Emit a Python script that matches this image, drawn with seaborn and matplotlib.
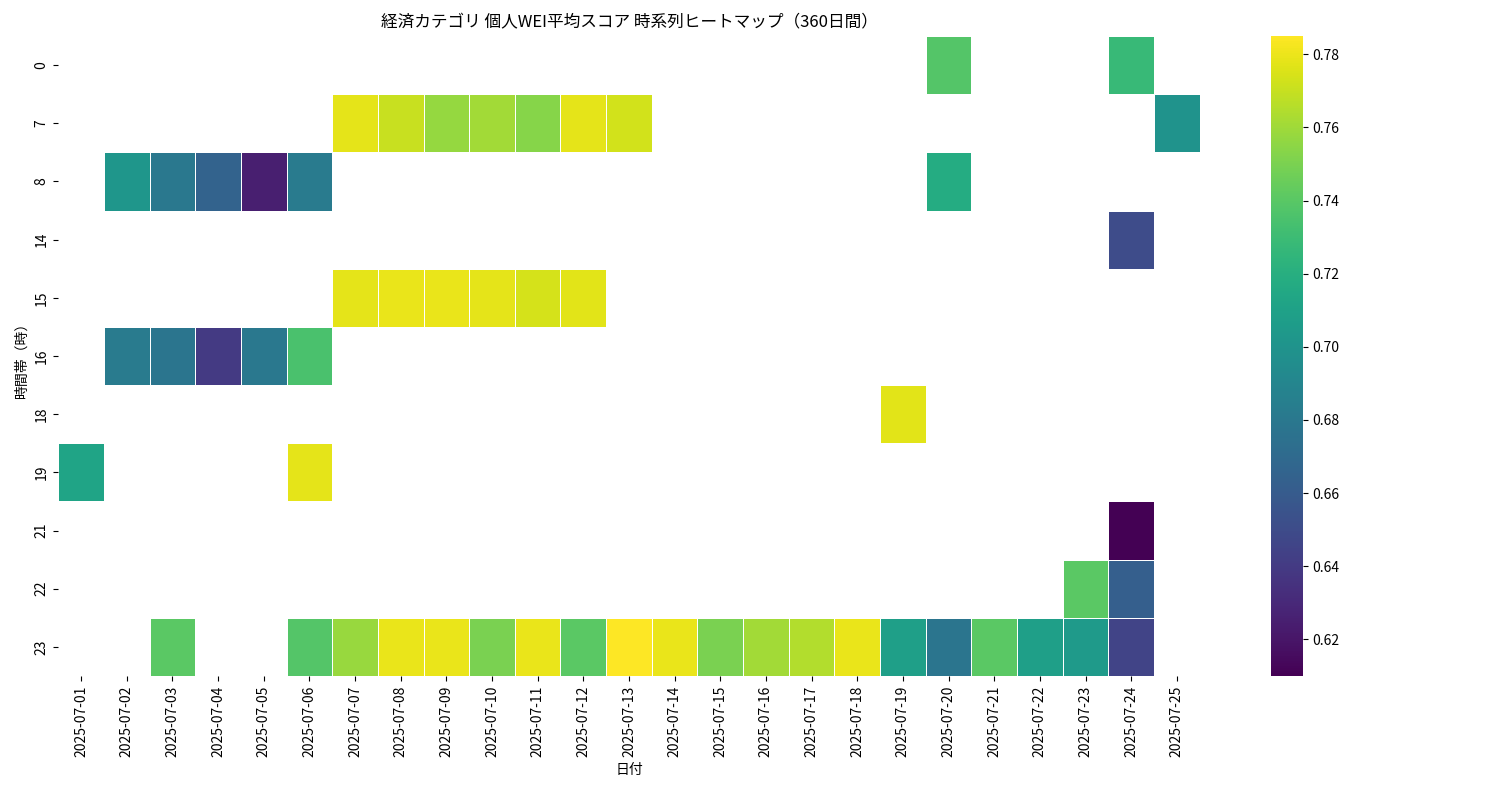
import numpy as np
import pandas as pd
import matplotlib
matplotlib.use('Agg')
import matplotlib.pyplot as plt
import seaborn as sns

plt.rcParams['font.family'] = 'Noto Sans CJK JP'

# Data
dates = [f'2025-07-{d:02d}' for d in range(1, 26)]
hours = [0, 7, 8, 14, 15, 16, 18, 19, 21, 22, 23]

row_0 = {'2025-07-20': 0.738, '2025-07-24': 0.728}
row_7 = {'2025-07-07': 0.778, '2025-07-08': 0.770, '2025-07-09': 0.757, '2025-07-10': 0.761,
         '2025-07-11': 0.753, '2025-07-12': 0.778, '2025-07-13': 0.773, '2025-07-25': 0.700}
row_8 = {'2025-07-02': 0.702, '2025-07-03': 0.680, '2025-07-04': 0.665, '2025-07-05': 0.625,
         '2025-07-06': 0.682, '2025-07-20': 0.718}
row_14 = {'2025-07-24': 0.650}
row_15 = {'2025-07-07': 0.778, '2025-07-08': 0.779, '2025-07-09': 0.779, '2025-07-10': 0.778,
          '2025-07-11': 0.774, '2025-07-12': 0.777}
row_16 = {'2025-07-02': 0.682, '2025-07-03': 0.678, '2025-07-04': 0.640, '2025-07-05': 0.680,
          '2025-07-06': 0.735}
row_18 = {'2025-07-19': 0.777}
row_19 = {'2025-07-01': 0.712, '2025-07-06': 0.778}
row_21 = {'2025-07-24': 0.610}
row_22 = {'2025-07-23': 0.740, '2025-07-24': 0.662}
row_23 = {'2025-07-03': 0.740, '2025-07-06': 0.738, '2025-07-07': 0.758, '2025-07-08': 0.779,
          '2025-07-09': 0.779, '2025-07-10': 0.750, '2025-07-11': 0.779, '2025-07-12': 0.740,
          '2025-07-13': 0.785, '2025-07-14': 0.779, '2025-07-15': 0.750, '2025-07-16': 0.761,
          '2025-07-17': 0.765, '2025-07-18': 0.779, '2025-07-19': 0.708, '2025-07-20': 0.678,
          '2025-07-21': 0.740, '2025-07-22': 0.708, '2025-07-23': 0.705, '2025-07-24': 0.645}

rows = [row_0, row_7, row_8, row_14, row_15, row_16, row_18, row_19, row_21, row_22, row_23]
df = pd.DataFrame(rows, index=hours).reindex(columns=dates)

fig, ax = plt.subplots(figsize=(15, 8))
sns.heatmap(df, cmap='viridis', linewidths=0.5, linecolor='white', ax=ax,
            vmin=0.61, vmax=0.785)
ax.set_title('経済カテゴリ 個人WEI平均スコア 時系列ヒートマップ（360日間）')
ax.set_xlabel('日付')
ax.set_ylabel('時間帯（時）')
plt.xticks(rotation=90)
plt.tight_layout()
fig.subplots_adjust(bottom=0.155, top=0.955)
plt.savefig('out.png', dpi=100)
